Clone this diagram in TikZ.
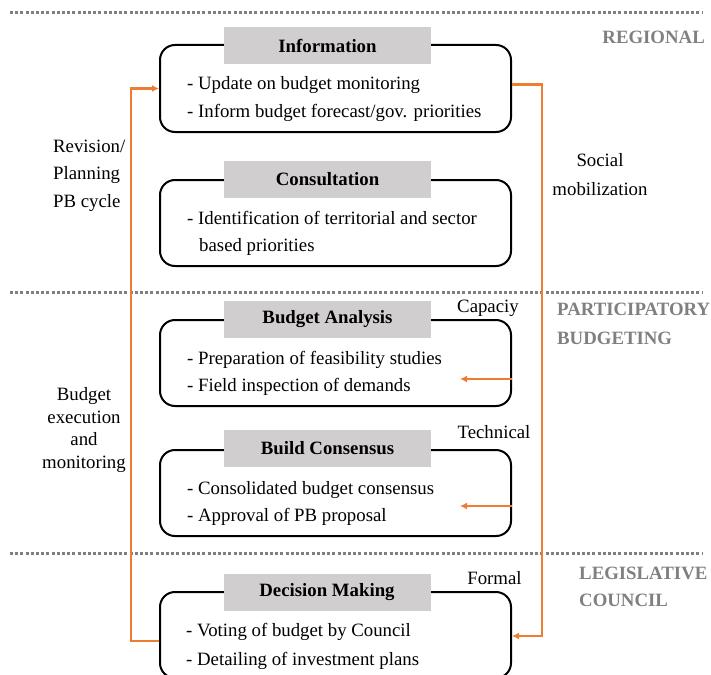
\documentclass[tikz,border=0pt]{standalone}
\usepackage{fontspec}
\setmainfont{Liberation Serif}
\usetikzlibrary{arrows.meta}
\definecolor{orng}{HTML}{ED7D31}
\definecolor{hdrgray}{HTML}{D0CECE}
\definecolor{lblgray}{HTML}{808080}
\definecolor{dotgray}{HTML}{7F7F7F}
\tikzset{
  stagebox/.style={draw=black, line width=2pt, rounded corners=15pt, minimum width=351pt, inner sep=0pt},
  hdr/.style={fill=hdrgray, minimum width=207pt, minimum height=37pt, inner sep=0pt, font=\fontsize{18.8}{22}\selectfont\bfseries},
  itm/.style={anchor=west, inner sep=0pt, font=\fontsize{18.8}{22}\selectfont},
  side/.style={inner sep=0pt, font=\fontsize{18.8}{22}\selectfont},
  lvl/.style={inner sep=0pt, text=lblgray, font=\fontsize{18.8}{22}\selectfont\bfseries},
  sep/.style={draw=dotgray, line width=3pt, dash pattern=on 3pt off 2.2pt},
  flow/.style={draw=orng, line width=2.5pt},
  flowarr/.style={flow, -{Latex[length=7pt,width=7pt]}},
}
\begin{document}
\begin{tikzpicture}[x=1pt,y=-1pt]
\useasboundingbox (0,0) rectangle (711,674);
% separators
\coordinate (s1a) at (10,13); \coordinate (s1b) at (703,13);
\coordinate (s2a) at (10,292); \coordinate (s2b) at (703,292);
\coordinate (s3a) at (10,553); \coordinate (s3b) at (703,553);
\draw[sep] (s1a) -- (s1b);
\draw[sep] (s2a) -- (s2b);
\draw[sep] (s3a) -- (s3b);
% level labels
\node[lvl, anchor=east] (regional) at (705,37) {REGIONAL};
\node[lvl, anchor=west] (pb1) at (557,309) {PARTICIPATORY};
\node[lvl, anchor=west] (pb2) at (557,338) {BUDGETING};
\node[lvl, anchor=west] (leg1) at (579,573) {LEGISLATIVE};
\node[lvl, anchor=west] (leg2) at (579,600) {COUNCIL};
% boxes
\node[stagebox, minimum height=87pt] (info) at (335.5,88.5) {};
\node[stagebox, minimum height=86pt] (cons) at (335.5,223) {};
\node[stagebox, minimum height=86pt] (ba) at (335.5,363) {};
\node[stagebox, minimum height=86pt] (bc) at (335.5,493) {};
\node[stagebox, minimum height=86pt] (dec) at (335.5,635) {};
% headers
\node[hdr] (infoh) at (327.5,45.5) {Information};
\node[hdr] (consh) at (327.5,179.5) {Consultation};
\node[hdr] (bah) at (327.5,319.5) {Budget Analysis};
\node[hdr] (bch) at (327.5,448.5) {Build Consensus};
\node[hdr] (dech) at (327,592) {Decision Making};
% items
\node[itm] (i1) at (187,85) {- Update on budget monitoring};
\node[itm] (i2) at (187,113) {- Inform budget forecast/gov. priorities};
\node[itm] (c1) at (187,218) {- Identification of territorial and sector};
\node[itm] (c2) at (199,247) {based priorities};
\node[itm] (b1) at (187,360) {- Preparation of feasibility studies};
\node[itm] (b2) at (187,387) {- Field inspection of demands};
\node[itm] (k1) at (187,490) {- Consolidated budget consensus};
\node[itm] (k2) at (187,517) {- Approval of PB proposal};
\node[itm] (d1) at (186,632) {- Voting of budget by Council};
\node[itm] (d2) at (186,661) {- Detailing of investment plans};
% side labels
\node[side, anchor=west] (rev1) at (53,146) {Revision/};
\node[side, anchor=west] (rev2) at (53,175) {Planning};
\node[side, anchor=west] (rev3) at (53,203) {PB cycle};
\node[side] (soc1) at (600,160) {Social};
\node[side] (soc2) at (600,189) {mobilization};
\node[side] (bem1) at (84,396) {Budget};
\node[side] (bem2) at (84,417) {execution};
\node[side] (bem3) at (84,439) {and};
\node[side] (bem4) at (84,464) {monitoring};
\node[side] (cap) at (488,308) {Capaciy};
\node[side] (tech) at (494,432) {Technical};
\node[side] (form) at (494.5,578) {Formal};
% flows
\coordinate (lx) at (131,0);
\coordinate (rx) at (542,0);
\draw[flowarr] ([yshift=-6pt]dec.west) -| (lx |- info.west) -- (info.west);
\draw[flowarr] ([yshift=4pt]info.east) -| (rx |- dec.east) |- ([yshift=-1pt]dec.east);
\coordinate (ta) at (460,379);
\coordinate (tb) at (460,506);
\draw[flowarr] (ba.east |- ta) -- (ta);
\draw[flowarr] (bc.east |- tb) -- (tb);
\end{tikzpicture}
\end{document}
